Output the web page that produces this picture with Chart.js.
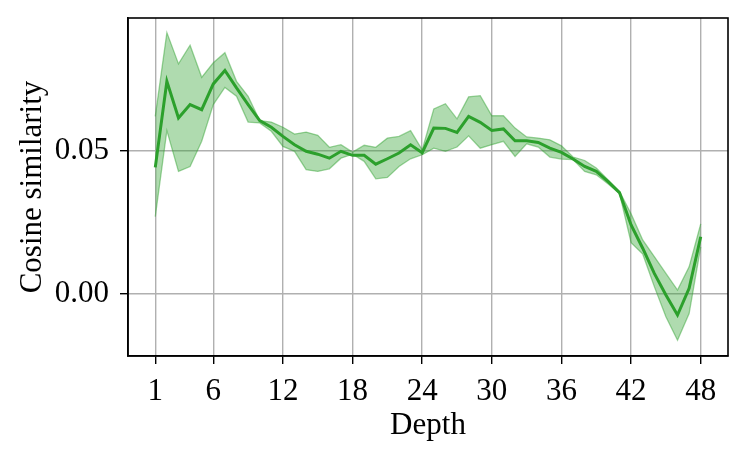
<!DOCTYPE html>
<html>
<head>
<meta charset="utf-8">
<script src="https://cdn.jsdelivr.net/npm/chart.js@4.4.1/dist/chart.umd.min.js"></script>
<style>
  html, body { margin: 0; padding: 0; background: #fff; }
  #wrap { width: 747px; height: 458px; }
</style>
</head>
<body>
<div id="wrap"><canvas id="c" width="747" height="458"></canvas></div>
<script>
const depths = [1,2,3,4,5,6,7,8,9,10,11,12,13,14,15,16,17,18,19,20,21,22,23,24,
                25,26,27,28,29,30,31,32,33,34,35,36,37,38,39,40,41,42,43,44,45,46,47,48];
const meanSim = [0.0442,0.0742,0.0614,0.0661,0.0643,0.0733,0.0780,0.0719,0.0661,0.0605,0.0582,0.0550,
                 0.0521,0.0498,0.0488,0.0474,0.0498,0.0484,0.0484,0.0453,0.0472,0.0492,0.0521,0.0493,
                 0.0579,0.0578,0.0564,0.0620,0.0599,0.0571,0.0576,0.0535,0.0535,0.0529,0.0509,0.0494,
                 0.0471,0.0445,0.0428,0.0393,0.0354,0.0241,0.0160,0.0072,-0.0003,-0.0073,0.0020,0.0200];
const upperSim = [0.0620,0.0912,0.0803,0.0868,0.0756,0.0807,0.0842,0.0742,0.0690,0.0605,0.0600,0.0582,
                  0.0558,0.0565,0.0554,0.0512,0.0521,0.0495,0.0519,0.0512,0.0544,0.0550,0.0570,0.0503,
                  0.0646,0.0664,0.0611,0.0688,0.0692,0.0622,0.0622,0.0579,0.0548,0.0544,0.0538,0.0517,
                  0.0478,0.0466,0.0440,0.0399,0.0358,0.0280,0.0189,0.0131,0.0072,0.0014,0.0095,0.0245];
const lowerSim = [0.0270,0.0570,0.0428,0.0445,0.0533,0.0661,0.0721,0.0690,0.0600,0.0597,0.0568,0.0515,
                  0.0498,0.0434,0.0428,0.0437,0.0474,0.0488,0.0463,0.0402,0.0407,0.0445,0.0472,0.0486,
                  0.0509,0.0498,0.0513,0.0552,0.0509,0.0521,0.0533,0.0480,0.0524,0.0513,0.0478,0.0471,
                  0.0469,0.0428,0.0416,0.0385,0.0351,0.0179,0.0140,0.0026,-0.0079,-0.0161,-0.0068,0.0165];
const xTicks = [1,6,12,18,24,30,36,42,48];
const yTicks = [0, 0.05];
const yTickLabels = ['0.00', '0.05'];
const xTitle = 'Depth';
const yTitle = 'Cosine similarity';

const pts = arr => depths.map((d, i) => ({x: d, y: arr[i]}));
const FONT = '"Liberation Serif", serif';
const FS = 31;
const GREEN = '#2ca02c';

const framePlugin = {
  id: 'frame',
  afterDatasetsDraw(chart) {
    const {ctx, chartArea: a} = chart;
    ctx.save();
    ctx.strokeStyle = '#000';
    ctx.lineWidth = 1.6;
    ctx.strokeRect(a.left, a.top, a.right - a.left, a.bottom - a.top);
    ctx.restore();
  }
};

new Chart(document.getElementById('c'), {
  type: 'line',
  data: {
    datasets: [
      { data: pts(meanSim), borderColor: GREEN, borderWidth: 3, pointRadius: 0, fill: false, order: 0, tension: 0 },
      { data: pts(upperSim), borderColor: 'rgba(44,160,44,0.45)', borderWidth: 1.3, pointRadius: 0, fill: false, order: 1, tension: 0 },
      { data: pts(lowerSim), borderColor: 'rgba(44,160,44,0.45)', borderWidth: 1.3, pointRadius: 0,
        fill: { target: 1 }, backgroundColor: 'rgba(44,160,44,0.38)', order: 2, tension: 0 }
    ]
  },
  options: {
    responsive: false,
    animation: false,
    devicePixelRatio: 1,
    layout: { padding: { left: 0, top: 18, right: 19, bottom: 0 } },
    plugins: { legend: { display: false }, tooltip: { enabled: false } },
    scales: {
      x: {
        type: 'linear', min: -1.35, max: 50.35,
        afterBuildTicks(s) { s.ticks = xTicks.map(v => ({ value: v })); },
        afterFit(s) { s.height = 102; s.paddingLeft = 0; s.paddingRight = 0; },
        grid: { color: '#b0b0b0', lineWidth: 1.4, tickColor: '#000', tickLength: 8, drawTicks: true },
        border: { display: true, color: '#000', width: 1.6 },
        ticks: { color: '#000', font: { family: FONT, size: FS }, padding: 9, maxRotation: 0,
                 callback: v => String(v) },
        title: { display: true, text: xTitle, color: '#000', font: { family: FONT, size: FS },
                 padding: { top: 0, bottom: 14 } }
      },
      y: {
        type: 'linear', min: -0.0216, max: 0.0963,
        afterBuildTicks(s) { s.ticks = yTicks.map(v => ({ value: v })); },
        afterFit(s) { s.width = 128; s.paddingTop = 0; s.paddingBottom = 0; },
        grid: { color: '#b0b0b0', lineWidth: 1.4, tickColor: '#000', tickLength: 8, drawTicks: true },
        border: { display: true, color: '#000', width: 1.6 },
        ticks: { color: '#000', font: { family: FONT, size: FS }, padding: 11,
                 callback: v => yTickLabels[yTicks.indexOf(v)] ?? '' },
        title: { display: true, text: yTitle, color: '#000', font: { family: FONT, size: FS },
                 padding: { top: 14, bottom: 0 } }
      }
    }
  },
  plugins: [framePlugin]
});
</script>
</body>
</html>
